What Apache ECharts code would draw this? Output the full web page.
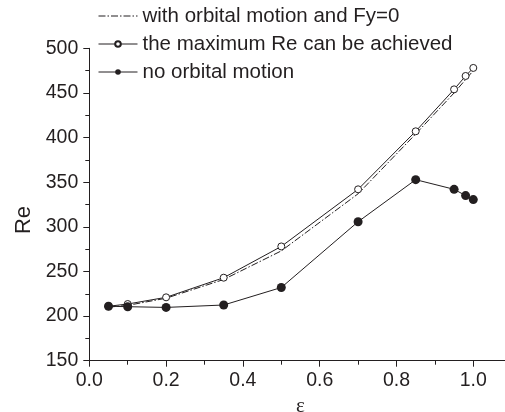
<!DOCTYPE html>
<html>
<head>
<meta charset="utf-8">
<script src="https://cdn.jsdelivr.net/npm/echarts@6/dist/echarts.min.js"></script>
<style>
  html, body { margin: 0; padding: 0; background: #ffffff; }
  #chart { width: 505px; height: 412px; }
</style>
</head>
<body>
<div id="chart"></div>
<script>
// Eccentricity values (x) shared by all three curves
var epsilon = [0.05, 0.1, 0.2, 0.35, 0.5, 0.7, 0.85, 0.95, 0.98, 1.0];
// Critical Reynolds number for each case
var reOrbitalFy0 = [210, 212, 220, 241, 273, 337, 404, 450, 465, 475];
var reMaxAchieved = [211, 213.5, 221, 243, 278, 342, 407, 454, 469, 478];
var reNoOrbital = [211, 210.5, 209.7, 212.4, 232, 305.7, 352.8, 342, 335, 330.5];

var seriesNames = [
  'with orbital motion and Fy=0',
  'the maximum Re can be achieved',
  'no orbital motion'
];

function pairs(ys) {
  return epsilon.map(function (x, i) { return [x, ys[i]]; });
}

var ink = '#231f20';
var font = '"Liberation Sans", Arial, sans-serif';

var chart = echarts.init(document.getElementById('chart'), null, { renderer: 'canvas' });

chart.setOption({
  animation: false,
  backgroundColor: '#ffffff',
  // the x axis runs on past the right edge of the canvas
  grid: {
    left: 89.3, top: 48.3, height: 312.4, width: 422.4,
    containLabel: false, outerBoundsMode: 'none'
  },
  legend: {
    orient: 'vertical',
    left: 93,
    top: 0.5,
    itemWidth: 39,
    itemHeight: 7,
    itemGap: 7,
    selectedMode: false,
    textStyle: { color: ink, fontSize: 20.5, fontFamily: font, lineHeight: 20 },
    data: [
      { name: seriesNames[0], itemStyle: { opacity: 0 }, lineStyle: { width: 1 } },
      { name: seriesNames[1], lineStyle: { width: 1 } },
      { name: seriesNames[2], lineStyle: { width: 1 } }
    ]
  },
  xAxis: {
    type: 'value',
    min: 0,
    max: 1.1,
    interval: 0.2,
    name: 'ε',
    nameLocation: 'middle',
    nameGap: 34,
    nameTextStyle: { color: ink, fontSize: 21, fontFamily: '"Liberation Serif", "DejaVu Serif", serif' },
    axisLine: { show: true, onZero: false, lineStyle: { color: ink, width: 1 } },
    axisTick: { show: true, inside: false, length: 6, lineStyle: { color: ink, width: 1 } },
    minorTick: { show: true, splitNumber: 2, length: 4, lineStyle: { color: ink, width: 1 } },
    splitLine: { show: false },
    axisLabel: {
      color: ink, fontSize: 19.5, fontFamily: font, margin: 10,
      formatter: function (v) { return v > 1.0001 ? '' : v.toFixed(1); }
    }
  },
  yAxis: {
    type: 'value',
    min: 150,
    max: 500,
    interval: 50,
    name: 'Re',
    nameLocation: 'middle',
    nameRotate: 90,
    nameGap: 39,
    nameTextStyle: { color: ink, fontSize: 22, fontFamily: font, padding: [0, 31, 0, 0] },
    axisLine: { show: true, onZero: false, lineStyle: { color: ink, width: 1 } },
    axisTick: { show: true, inside: false, length: 6, lineStyle: { color: ink, width: 1 } },
    minorTick: { show: true, splitNumber: 2, length: 4, lineStyle: { color: ink, width: 1 } },
    splitLine: { show: false },
    axisLabel: { color: ink, fontSize: 19.5, fontFamily: font, margin: 11 }
  },
  series: [
    {
      name: seriesNames[0],
      type: 'line',
      data: pairs(reOrbitalFy0),
      showSymbol: false,
      symbol: 'none',
      lineStyle: { color: ink, width: 1, type: [7, 2, 1.5, 2] },
      itemStyle: { color: ink },
      z: 2
    },
    {
      name: seriesNames[1],
      type: 'line',
      data: pairs(reMaxAchieved),
      symbol: 'circle',
      symbolSize: 7,
      lineStyle: { color: ink, width: 1 },
      itemStyle: { color: '#ffffff', borderColor: ink, borderWidth: 1 },
      z: 3
    },
    {
      name: seriesNames[2],
      type: 'line',
      data: pairs(reNoOrbital),
      symbol: 'circle',
      symbolSize: 9,
      lineStyle: { color: ink, width: 1 },
      itemStyle: { color: ink, borderColor: ink, borderWidth: 0 },
      z: 4
    }
  ]
});
</script>
</body>
</html>
